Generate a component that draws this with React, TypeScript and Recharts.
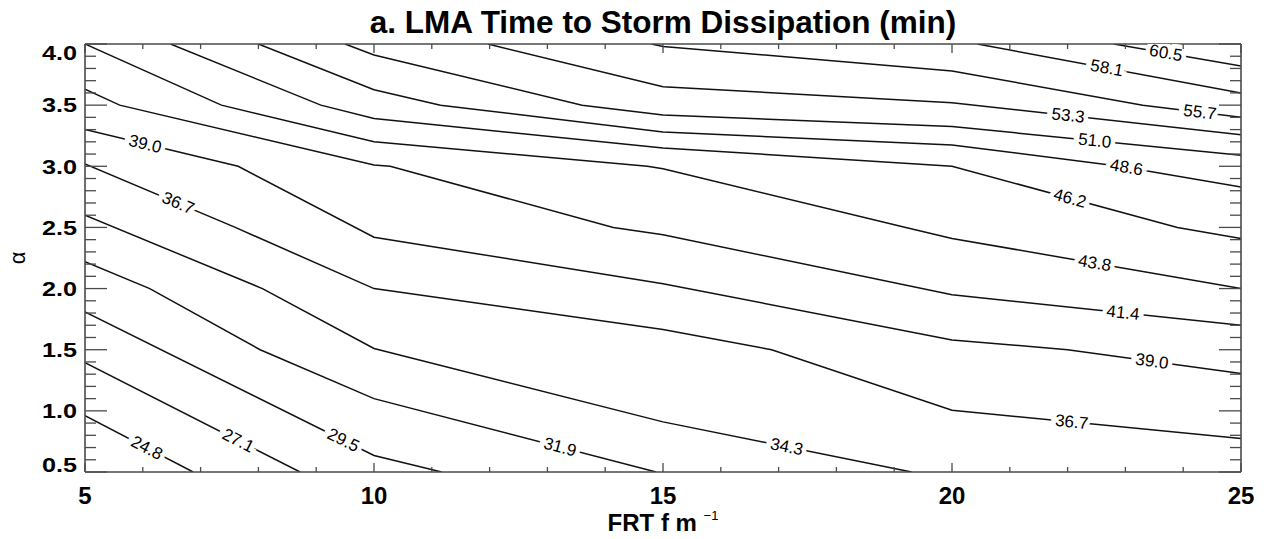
import { ComposedChart, Line, Scatter, XAxis, YAxis } from 'recharts';

const W = 1270;
const H = 539;
const FONT = '"Liberation Sans", Arial, Helvetica, sans-serif';
const AXIS_COLOR = '#4a4a4a';
const LINE_COLOR = '#111111';

// plot box (px) - used only to turn line slopes into label angles
const PLOT_W = 1156;
const PLOT_H = 428;
const X_RANGE = 20;
const Y_RANGE = 3.5;

const xTicks = [5, 6, 7, 8, 9, 10, 11, 12, 13, 14, 15, 16, 17, 18, 19, 20, 21, 22, 23, 24, 25];
const yTicks = [
  0.5, 0.6, 0.7, 0.8, 0.9, 1.0, 1.1, 1.2, 1.3, 1.4, 1.5, 1.6, 1.7, 1.8, 1.9, 2.0, 2.1, 2.2,
  2.3, 2.4, 2.5, 2.6, 2.7, 2.8, 2.9, 3.0, 3.1, 3.2, 3.3, 3.4, 3.5, 3.6, 3.7, 3.8, 3.9, 4.0,
];

// contour levels (min)
const levels = [24.8, 27.1, 29.5, 31.9, 34.3, 36.7, 39.0, 41.4, 43.8, 46.2, 48.6, 51.0, 53.3, 55.7, 58.1, 60.5];

// contour vertices, [FRT, alpha]
const c248 = [[5, 0.96], [6.87, 0.5]];
const c271 = [[5, 1.395], [8.72, 0.5]];
const c295 = [[5, 1.81], [10, 0.635], [11.17, 0.5]];
const c319 = [[5, 2.22], [6.12, 2.0], [8.03, 1.5], [10, 1.1], [14.88, 0.5]];
const c343 = [[5, 2.6], [8.07, 2.0], [10, 1.51], [15, 0.91], [19.3, 0.5]];
const c367 = [[5, 3.02], [7.6, 2.5], [10, 2.0], [15, 1.665], [16.88, 1.5], [20, 1.005], [25, 0.773]];
const c390 = [[5, 3.3], [7.65, 3.0], [10, 2.42], [15, 2.04], [20, 1.58], [22.0, 1.5], [25, 1.306]];
const c414 = [[5, 3.63], [5.6, 3.5], [10, 3.01], [10.28, 3.0], [14.14, 2.5], [15, 2.44], [20, 1.95], [25, 1.7]];
const c438 = [[5, 4.0], [7.36, 3.5], [10, 3.2], [14.73, 3.0], [15, 2.98], [19.2, 2.5], [20, 2.41], [25, 2.0]];
const c462 = [[6.48, 4.0], [9.08, 3.5], [10, 3.39], [15, 3.15], [20, 3.0], [23.9, 2.5], [25, 2.41]];
const c486 = [[8.0, 4.0], [10, 3.626], [11.15, 3.5], [15, 3.28], [20, 3.175], [22.9, 3.0], [25, 2.83]];
const c510 = [[9.5, 4.0], [10, 3.91], [13.6, 3.5], [15, 3.42], [20, 3.325], [25, 3.09]];
const c533 = [[11.97, 4.0], [15, 3.65], [20, 3.52], [25, 3.257]];
const c557 = [[14.8, 4.0], [15, 3.98], [20, 3.78], [23.3, 3.5], [25, 3.4]];
const c581 = [[20.44, 4.0], [25, 3.6]];
const c605 = [[22.8, 4.0], [25, 3.82]];

const contourPaths = [c248, c271, c295, c319, c343, c367, c390, c414, c438, c462, c486, c510, c533, c557, c581, c605];

// in-line labels: which level, and where along FRT
const labelLevels = [24.8, 27.1, 29.5, 31.9, 34.3, 36.7, 39.0, 36.7, 39.0, 41.4, 43.8, 46.2, 48.6, 51.0, 53.3, 55.7, 58.1, 60.5];
const labelFrt = [6.07, 7.65, 9.47, 13.22, 17.14, 6.61, 6.04, 22.07, 23.46, 22.96, 22.47, 22.04, 23.02, 22.47, 22.01, 24.29, 22.68, 23.7];

const lineData = contourPaths.map((path) => path.map(([x, y]) => ({ x, y })));

const labelPoints = labelLevels.map((lvl, i) => {
  const path = contourPaths[levels.indexOf(lvl)];
  const fx = labelFrt[i];
  let k = 0;
  while (k < path.length - 2 && path[k + 1][0] < fx) k++;
  const [x1, y1] = path[k];
  const [x2, y2] = path[k + 1];
  const t = (fx - x1) / (x2 - x1);
  const dxPx = (x2 - x1) * (PLOT_W / X_RANGE);
  const dyPx = -(y2 - y1) * (PLOT_H / Y_RANGE);
  return {
    x: fx,
    y: y1 + t * (y2 - y1),
    text: lvl.toFixed(1),
    angle: (Math.atan2(dyPx, dxPx) * 180) / Math.PI,
  };
});

const isMajor = (v: number, step: number) => Math.abs(v / step - Math.round(v / step)) < 1e-6;

function BottomTick(props: any) {
  const { x, y, payload } = props;
  const major = isMajor(payload.value, 5);
  return (
    <g>
      <line x1={x} x2={x} y1={y} y2={y - (major ? 9 : 5)} stroke={AXIS_COLOR} strokeWidth={1.3} />
      {major && (
        <text x={x} y={y + 32} textAnchor="middle" fontSize={24} fontWeight="bold" fontFamily={FONT} fill="#000">
          {payload.value}
        </text>
      )}
    </g>
  );
}

function TopTick(props: any) {
  const { x, y, payload } = props;
  const major = isMajor(payload.value, 5);
  return <line x1={x} x2={x} y1={y} y2={y + (major ? 9 : 5)} stroke={AXIS_COLOR} strokeWidth={1.3} />;
}

function LeftTick(props: any) {
  const { x, y, payload } = props;
  const v = payload.value;
  const major = isMajor(v, 0.5);
  // end labels are pulled inside the box
  const dy = v >= 3.99 ? 9 : v <= 0.51 ? -7 : 0;
  return (
    <g>
      <line x1={x} x2={x + (major ? 22 : 11)} y1={y} y2={y} stroke={AXIS_COLOR} strokeWidth={1.3} />
      {major && (
        <text
          transform={`translate(${x - 8} ${y + dy}) scale(1.2 1)`}
          textAnchor="end"
          dominantBaseline="central"
          fontSize={21}
          fontWeight="bold"
          fontFamily={FONT}
          fill="#000"
        >
          {v.toFixed(1)}
        </text>
      )}
    </g>
  );
}

function RightTick(props: any) {
  const { x, y, payload } = props;
  const major = isMajor(payload.value, 0.5);
  return <line x1={x} x2={x - (major ? 22 : 11)} y1={y} y2={y} stroke={AXIS_COLOR} strokeWidth={1.3} />;
}

function ContourLabel(props: any) {
  const { cx, cy, payload } = props;
  return (
    <text
      x={cx}
      y={cy}
      transform={`rotate(${payload.angle} ${cx} ${cy})`}
      textAnchor="middle"
      dominantBaseline="central"
      fontSize={17}
      fontFamily={FONT}
      fill="#000"
      stroke="#fff"
      strokeWidth={9}
      paintOrder="stroke"
    >
      {payload.text}
    </text>
  );
}

export default function App() {
  const axisLine = { stroke: AXIS_COLOR, strokeWidth: 1.6 };
  return (
    <div style={{ position: 'absolute', left: 0, top: 0, width: W, height: H, background: '#fff' }}>
      <ComposedChart width={W} height={H} margin={{ top: 14, right: 0, bottom: 7, left: 0 }}>
        <XAxis
          xAxisId="b"
          type="number"
          dataKey="x"
          domain={[5, 25]}
          ticks={xTicks}
          interval={0}
          orientation="bottom"
          height={60}
          tickSize={0}
          tickMargin={0}
          tickLine={false}
          axisLine={axisLine}
          tick={(p: any) => <BottomTick {...p} />}
          allowDataOverflow
        />
        <XAxis
          xAxisId="t"
          type="number"
          dataKey="x"
          domain={[5, 25]}
          ticks={xTicks}
          interval={0}
          orientation="top"
          height={30}
          tickSize={0}
          tickMargin={0}
          tickLine={false}
          axisLine={axisLine}
          tick={(p: any) => <TopTick {...p} />}
          allowDataOverflow
        />
        <YAxis
          yAxisId="l"
          type="number"
          domain={[0.5, 4]}
          ticks={yTicks}
          interval={0}
          orientation="left"
          width={85}
          tickSize={0}
          tickMargin={0}
          tickLine={false}
          axisLine={axisLine}
          tick={(p: any) => <LeftTick {...p} />}
          allowDataOverflow
        />
        <YAxis
          yAxisId="r"
          type="number"
          domain={[0.5, 4]}
          ticks={yTicks}
          interval={0}
          orientation="right"
          width={29}
          tickSize={0}
          tickMargin={0}
          tickLine={false}
          axisLine={axisLine}
          tick={(p: any) => <RightTick {...p} />}
          allowDataOverflow
        />
        {lineData.map((d, i) => (
          <Line
            key={levels[i]}
            data={d}
            dataKey="y"
            xAxisId="b"
            yAxisId="l"
            type="linear"
            stroke={LINE_COLOR}
            strokeWidth={1.5}
            dot={false}
            activeDot={false}
            isAnimationActive={false}
          />
        ))}
        <Scatter
          data={labelPoints}
          dataKey="y"
          xAxisId="b"
          yAxisId="l"
          shape={(p: any) => <ContourLabel {...p} />}
          isAnimationActive={false}
        />
      </ComposedChart>
      <svg
        width={W}
        height={H}
        style={{ position: 'absolute', left: 0, top: 0, pointerEvents: 'none' }}
      >
        <text x={663} y={33} textAnchor="middle" fontSize={31.5} fontWeight="bold" fontFamily={FONT} fill="#000">
          a. LMA Time to Storm Dissipation (min)
        </text>
        <text x={663} y={531} textAnchor="middle" fontSize={24} fontWeight="bold" fontFamily={FONT} fill="#000">
          FRT f m{' '}
          <tspan fontSize={13} fontWeight="normal" dy={-11}>
            −1
          </tspan>
        </text>
        <text
          x={17}
          y={258}
          transform="rotate(-90 17 258)"
          textAnchor="middle"
          dominantBaseline="central"
          fontSize={22}
          fontFamily={FONT}
          fill="#000"
        >
          α
        </text>
      </svg>
    </div>
  );
}
